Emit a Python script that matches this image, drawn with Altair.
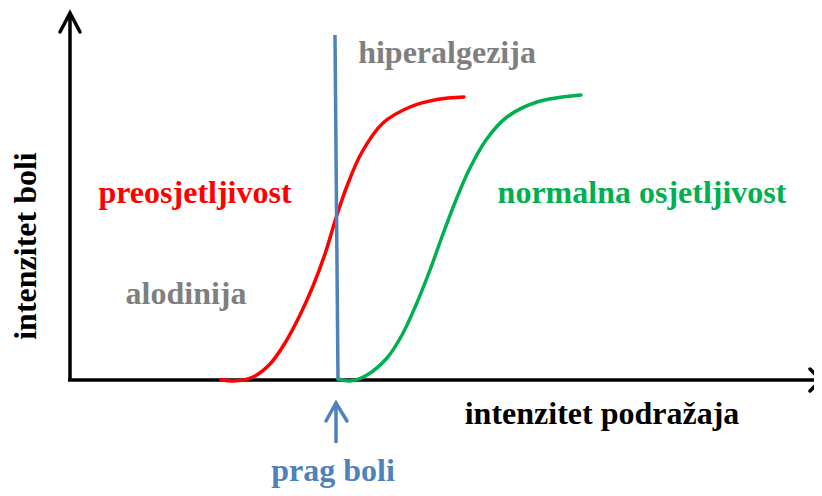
import altair as alt
import pandas as pd

# Schematic units: x = stimulus intensity, y = pain intensity (origin at the axes' corner)
red_x = [151, 163, 183, 200, 215, 230, 243, 255, 266, 277, 292, 313, 340, 367, 394]
red_y = [0.5, -1, 3, 16, 37, 65, 94, 126, 162, 194, 228, 257, 273, 280.5, 283]
green_x = [268, 280, 297, 317, 332, 346, 360, 373, 386, 399, 416, 437, 467, 511]
green_y = [1, -1, 5, 22, 45, 75, 110, 146, 180, 210, 240, 263, 278, 285]

# threshold line (prag boli)
thr_x = [265, 268]
thr_y = [345, 0]

# axes with arrowheads (polylines)
yaxis_x = [0, 0]
yaxis_y = [0, 367]
yhead_x = [-10, 0, 10]
yhead_y = [348, 367, 348]
xaxis_x = [-2, 751]
xaxis_y = [0, 0]
xhead_x = [740, 751, 740]
xhead_y = [11, 0, -11]
# threshold arrow
tarr_x = [266, 266]
tarr_y = [-63, -23]
thead_x = [256, 266, 277]
thead_y = [-41, -23, -41]

labels = ["hiperalgezija", "preosjetljivost", "normalna osjetljivost", "alodinija",
          "intenzitet boli", "intenzitet podražaja", "prag boli"]
label_x = [377, 125, 572, 116, -34, 532, 263]
label_y = [317, 177, 177, 76, 134, -44, -101]
label_color = ["#7F7F7F", "#FF0000", "#00B050", "#7F7F7F", "#000000", "#000000", "#4F81BD"]
label_angle = [0, 0, 0, 0, 270, 0, 0]

X = alt.Scale(domain=[-62, 744])
Y = alt.Scale(domain=[-108, 372])


def poly(xs, ys, color, width, interp="linear", cap="round"):
    df = pd.DataFrame({"x": xs, "y": ys, "o": list(range(len(xs)))})
    return alt.Chart(df).mark_line(
        color=color, strokeWidth=width, interpolate=interp, clip=False,
        strokeCap=cap, strokeJoin="miter"
    ).encode(
        x=alt.X("x:Q", scale=X, axis=None),
        y=alt.Y("y:Q", scale=Y, axis=None),
        order="o:Q",
    )


layers = [
    poly(yaxis_x, yaxis_y, "black", 3.5, cap="butt"),
    poly(yhead_x, yhead_y, "black", 3.5),
    poly(xaxis_x, xaxis_y, "black", 3.5, cap="butt"),
    poly(xhead_x, xhead_y, "black", 3.5),
    poly(red_x, red_y, "#FF0000", 3.5, "catmull-rom"),
    poly(green_x, green_y, "#00B050", 3.5, "catmull-rom"),
    poly(thr_x, thr_y, "#4F81BD", 3.5, cap="butt"),
    poly(tarr_x, tarr_y, "#4F81BD", 3.5, cap="butt"),
    poly(thead_x, thead_y, "#4F81BD", 3.5),
]

tdf = pd.DataFrame({"t": labels, "x": label_x, "y": label_y,
                    "c": label_color, "a": label_angle})
text = alt.Chart(tdf).mark_text(
    font="Liberation Serif", fontWeight="bold", fontSize=32,
    align="center", baseline="alphabetic", clip=False
).encode(
    x=alt.X("x:Q", scale=X, axis=None),
    y=alt.Y("y:Q", scale=Y, axis=None),
    text="t:N",
    color=alt.Color("c:N", scale=None),
    angle=alt.Angle("a:Q", scale=None),
)

chart = alt.layer(*layers, text).properties(
    width=806, height=480, padding=0,
    autosize=alt.AutoSizeParams(type="none"),
).configure(background="white").configure_view(stroke=None)

chart.save("out.html", embed_options={"renderer": "svg", "actions": False})
